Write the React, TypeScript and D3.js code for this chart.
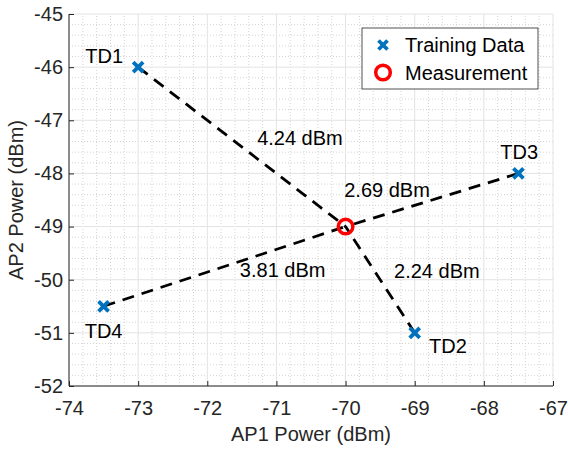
import React, { useEffect, useRef } from 'react';
import * as d3 from 'd3';

const trainingNames = ['TD1', 'TD2', 'TD3', 'TD4'];
const trainingAP1 = [-73, -69, -67.5, -73.5];
const trainingAP2 = [-46, -51, -48, -50.5];
const measurement = { ap1: -70, ap2: -49 };
const distanceLabels = ['4.24 dBm', '2.24 dBm', '2.69 dBm', '3.81 dBm'];
// label offsets in data units: names relative to TD point, distances relative to segment midpoint
const nameOffsets = [[-0.49, 0.22], [0.48, -0.24], [0.01, 0.41], [0, -0.46]];
const distOffsets = [[0.84, 0.17], [0.82, 0.16], [-0.65, 0.19], [0.84, -0.06]];
const xTicks = [-74, -73, -72, -71, -70, -69, -68, -67];
const yTicks = [-52, -51, -50, -49, -48, -47, -46, -45];

const App = () => {
  const svgRef = useRef<SVGSVGElement>(null);

  useEffect(() => {
    const width = 568;
    const height = 453;
    const margin = { top: 14, right: 15, bottom: 67, left: 69 };
    const svg = d3.select(svgRef.current)
      .attr('width', width)
      .attr('height', height);
    svg.selectAll('*').remove();

    const font = 'Liberation Sans, Arial, sans-serif';
    const fs = 20;
    const x = d3.scaleLinear().domain([-74, -67]).range([margin.left, width - margin.right]);
    const y = d3.scaleLinear().domain([-52, -45]).range([height - margin.bottom, margin.top]);

    svg.append('rect').attr('width', width).attr('height', height).attr('fill', 'white');

    // minor grid
    const minorX = d3.range(-74, -67.001, 0.2).filter(v => Math.abs(v - Math.round(v)) > 0.01);
    const minorY = d3.range(-52, -45.001, 0.2).filter(v => Math.abs(v - Math.round(v)) > 0.01);
    const grid = svg.append('g');
    grid.selectAll('.mx').data(minorX).enter().append('line')
      .attr('x1', d => x(d)).attr('x2', d => x(d))
      .attr('y1', y(-52)).attr('y2', y(-45))
      .attr('stroke', '#d4d4d4').attr('stroke-width', 1).attr('stroke-dasharray', '1,2');
    grid.selectAll('.my').data(minorY).enter().append('line')
      .attr('y1', d => y(d)).attr('y2', d => y(d))
      .attr('x1', x(-74)).attr('x2', x(-67))
      .attr('stroke', '#d4d4d4').attr('stroke-width', 1).attr('stroke-dasharray', '1,2');
    // major grid
    grid.selectAll('.gx').data(xTicks).enter().append('line')
      .attr('x1', d => x(d)).attr('x2', d => x(d))
      .attr('y1', y(-52)).attr('y2', y(-45))
      .attr('stroke', '#e3e3e3').attr('stroke-width', 1);
    grid.selectAll('.gy').data(yTicks).enter().append('line')
      .attr('y1', d => y(d)).attr('y2', d => y(d))
      .attr('x1', x(-74)).attr('x2', x(-67))
      .attr('stroke', '#e3e3e3').attr('stroke-width', 1);

    // axes
    const xAxis = svg.append('g')
      .attr('transform', `translate(0,${y(-52)})`)
      .call(d3.axisBottom(x).tickValues(xTicks).tickSize(-5).tickPadding(15).tickFormat(d3.format('d')));
    const yAxis = svg.append('g')
      .attr('transform', `translate(${x(-74)},0)`)
      .call(d3.axisLeft(y).tickValues(yTicks).tickSize(-5).tickPadding(6).tickFormat(d3.format('d')));
    [xAxis, yAxis].forEach(a => {
      a.select('.domain').attr('stroke', '#262626').attr('stroke-width', 1);
      a.selectAll('.tick line').attr('stroke', '#262626');
      a.selectAll('.tick text').attr('fill', '#262626').attr('font-size', fs).attr('font-family', font)
        .text((d: any) => String(d));
    });
    xAxis.select('.domain').attr('d', `M${x(-74)},0H${x(-67)}`);
    yAxis.select('.domain').attr('d', `M0,${y(-52)}V${y(-45)}`);

    svg.append('text')
      .attr('x', (x(-74) + x(-67)) / 2).attr('y', 441)
      .attr('text-anchor', 'middle').attr('font-size', fs).attr('font-family', font).attr('fill', '#262626')
      .text('AP1 Power (dBm)');
    svg.append('text')
      .attr('transform', `translate(23,${(y(-52) + y(-45)) / 2}) rotate(-90)`)
      .attr('text-anchor', 'middle').attr('font-size', fs).attr('font-family', font).attr('fill', '#262626')
      .text('AP2 Power (dBm)');

    // dashed lines
    trainingAP1.forEach((ap1, i) => {
      svg.append('line')
        .attr('x1', x(ap1)).attr('y1', y(trainingAP2[i]))
        .attr('x2', x(measurement.ap1)).attr('y2', y(measurement.ap2))
        .attr('stroke', 'black').attr('stroke-width', 2.8).attr('stroke-dasharray', '12,8');
    });

    // training markers and labels
    const s = 5;
    trainingAP1.forEach((ap1, i) => {
      const cx = x(ap1), cy = y(trainingAP2[i]);
      svg.append('path')
        .attr('d', `M${cx - s},${cy - s}L${cx + s},${cy + s}M${cx - s},${cy + s}L${cx + s},${cy - s}`)
        .attr('stroke', '#0072BD').attr('stroke-width', 3.8).attr('fill', 'none');
      svg.append('text')
        .attr('x', x(ap1 + nameOffsets[i][0])).attr('y', y(trainingAP2[i] + nameOffsets[i][1]))
        .attr('text-anchor', 'middle').attr('dy', '0.36em')
        .attr('font-size', fs).attr('font-family', font).attr('fill', 'black')
        .text(trainingNames[i]);
      const mx = (ap1 + measurement.ap1) / 2, my = (trainingAP2[i] + measurement.ap2) / 2;
      svg.append('text')
        .attr('x', x(mx + distOffsets[i][0])).attr('y', y(my + distOffsets[i][1]))
        .attr('text-anchor', 'middle').attr('dy', '0.36em')
        .attr('font-size', fs).attr('font-family', font).attr('fill', 'black')
        .text(distanceLabels[i]);
    });

    svg.append('circle')
      .attr('cx', x(measurement.ap1)).attr('cy', y(measurement.ap2)).attr('r', 7.3)
      .attr('fill', 'none').attr('stroke', '#FF0000').attr('stroke-width', 3.5);

    // legend
    const lg = svg.append('g').attr('transform', 'translate(362,28)');
    lg.append('rect').attr('width', 176).attr('height', 61)
      .attr('fill', 'white').attr('stroke', '#262626').attr('stroke-width', 0.8);
    const lx = 21, ly1 = 17, ly2 = 44.5;
    lg.append('path')
      .attr('d', `M${lx - 4.5},${ly1 - 4.5}L${lx + 4.5},${ly1 + 4.5}M${lx - 4.5},${ly1 + 4.5}L${lx + 4.5},${ly1 - 4.5}`)
      .attr('stroke', '#0072BD').attr('stroke-width', 3.8);
    lg.append('circle').attr('cx', lx).attr('cy', ly2).attr('r', 7.3)
      .attr('fill', 'none').attr('stroke', '#FF0000').attr('stroke-width', 3.5);
    lg.append('text').attr('x', 43).attr('y', ly1).attr('dy', '0.36em')
      .attr('font-size', fs).attr('font-family', font).attr('fill', 'black').text('Training Data');
    lg.append('text').attr('x', 43).attr('y', ly2).attr('dy', '0.36em')
      .attr('font-size', fs).attr('font-family', font).attr('fill', 'black').text('Measurement');
  }, []);

  return <svg ref={svgRef} style={{ position: 'absolute', left: 0, top: 0 }}></svg>;
};

export default App;
